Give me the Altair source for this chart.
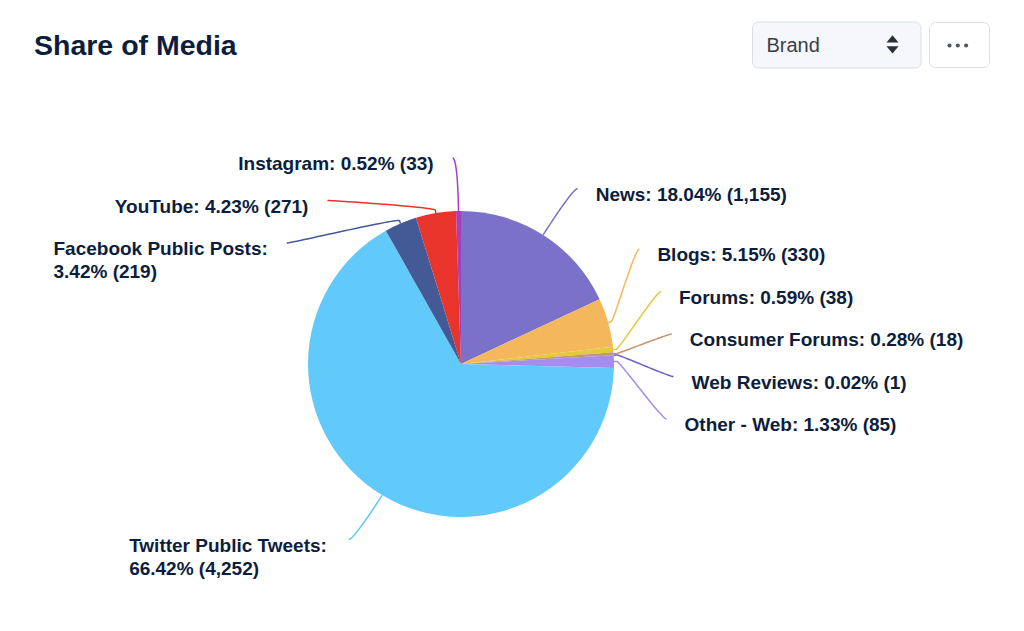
import math
import altair as alt
import pandas as pd

# ---------------- data ----------------
names = ["News", "Blogs", "Forums", "Consumer Forums", "Web Reviews", "Other - Web",
         "Twitter Public Tweets", "Facebook Public Posts", "YouTube", "Instagram"]
counts = [1155, 330, 38, 18, 1, 85, 4252, 219, 271, 33]
colors = ["#7b71c9", "#f5b75b", "#e2ca3c", "#c4956b", "#6a63cc", "#a78cef",
          "#62c9fb", "#435a97", "#e8342a", "#a540bd"]
wrapped = ["Facebook Public Posts", "Twitter Public Tweets"]
title_text = "Share of Media"
dropdown_text = "Brand"

# ---------------- layout constants (page pixels) ----------------
OX, OY = 8, 8
CX, CY, R = 461, 364, 153
RL = 208          # label ring radius
PAD = 5
GAP_R, GAP_L = 18, 19
H1, HL = 42.5, 22.0
TOP, BOTTOM = 158, 604
FS = 19
FONT = "Liberation Sans"
INK = "#0d1d3d"

# Arial/Liberation Sans Bold advance widths (per 1000 em)
AB = {'N': 722, 'e': 556, 'w': 778, 's': 556, 'B': 722, 'l': 278, 'o': 611, 'g': 611,
      'F': 611, 'r': 389, 'u': 611, 'm': 889, 'C': 722, 'n': 611, 'W': 944, 'b': 611,
      'R': 722, 'v': 556, 'i': 278, 'O': 778, 't': 333, 'h': 611, 'T': 611, 'P': 667,
      'c': 556, 'k': 556, 'a': 556, 'Y': 667, 'I': 278, 'p': 611, 'd': 611, 'f': 333,
      'S': 667, 'M': 833, 'E': 667, ':': 333, ' ': 278, '.': 278, '%': 889, '(': 333,
      ')': 333, ',': 278, '-': 333}


def text_w(s, size=FS):
    return sum(AB.get(ch, 556) for ch in s) / 1000.0 * size


total = sum(counts)
starts, acc = [], 0
for c in counts:
    starts.append(acc)
    acc += c
mids = [2 * math.pi * (s + c / 2) / total for s, c in zip(starts, counts)]

labels = []
for i, (n, c, m) in enumerate(zip(names, counts, mids)):
    tail = f"{100 * c / total:.2f}% ({c:,})"
    lines = [f"{n}:", tail] if n in wrapped else [f"{n}: {tail}"]
    labels.append(dict(i=i, name=n, lines=lines, left=math.sin(m) < 0,
                       ny=CY - RL * math.cos(m), nx=CX + RL * math.sin(m),
                       h=H1 + HL * (len(lines) - 1), mid=m))


def distribute(boxes):
    boxes = sorted(boxes, key=lambda b: b['ny'])
    clusters = [[b] for b in boxes]
    while True:
        pos = []
        for cl in clusters:
            tg = [b['ny'] + b['h'] / 2 for b in cl]
            size = sum(b['h'] for b in cl)
            p = (min(tg) + max(tg)) / 2 - size / 2
            p = max(TOP, min(BOTTOM - size, p))
            pos.append(p)
        merged = False
        for k in range(len(clusters) - 1):
            size_k = sum(b['h'] for b in clusters[k])
            if pos[k] + size_k > pos[k + 1] + 1e-9:
                clusters[k] = clusters[k] + clusters[k + 1]
                del clusters[k + 1]
                merged = True
                break
        if not merged:
            break
    for cl, p in zip(clusters, pos):
        y = p
        for b in cl:
            b['y'] = y
            b['clamped'] = abs(y - TOP) < 1e-6 or abs(y + b['h'] - BOTTOM) < 1e-6
            y += b['h']


distribute([b for b in labels if not b['left']])
distribute([b for b in labels if b['left']])

for b in labels:
    sgn = -1 if b['left'] else 1
    if b['clamped']:
        b['x'] = b['nx'] + sgn * PAD
    else:
        dy = b['y'] - CY
        b['x'] = CX + sgn * (math.sqrt(max(0.0, RL * RL - dy * dy)) + PAD)

# connectors
OFF = 3
line_rows = []
for b in labels:
    m = b['mid']
    ux, uy = math.sin(m), -math.cos(m)
    tx, ty = CX + R * ux, CY + R * uy
    bx, by = CX + (R + OFF) * ux, CY + (R + OFF) * uy
    c2x, c2y = 2 * bx - tx, 2 * by - ty
    p0x, p0y = b['x'], b['y']
    c1x, c1y = p0x + (5 if b['left'] else -5), p0y
    N = 30
    seq = 0
    for k in range(N + 1):
        t = k / N
        mt = 1 - t
        x = mt ** 3 * p0x + 3 * mt * mt * t * c1x + 3 * mt * t * t * c2x + t ** 3 * bx
        y = mt ** 3 * p0y + 3 * mt * mt * t * c1y + 3 * mt * t * t * c2y + t ** 3 * by
        line_rows.append(dict(name=b['name'], seq=seq, x=x - OX, y=y - OY))
        seq += 1
    line_rows.append(dict(name=b['name'], seq=seq, x=tx - OX, y=ty - OY))

left_rows, right_rows = [], []
for b in labels:
    for j, ln in enumerate(b['lines']):
        yb = b['y'] + 12 + 23 * j - OY
        if not b['left']:
            left_rows.append(dict(text=ln, x=b['x'] + GAP_R - OX, y=yb))
        elif len(b['lines']) == 1:
            right_rows.append(dict(text=ln, x=b['x'] - GAP_L - OX, y=yb))
        else:
            w = max(text_w(s) for s in b['lines'])
            left_rows.append(dict(text=ln, x=b['x'] - GAP_L - w - OX, y=yb))

# ---------------- charts ----------------
color_enc = alt.Color('name:N', scale=alt.Scale(domain=names, range=colors), legend=None)
one = pd.DataFrame({'v': [0]})

pie_df = pd.DataFrame({'name': names, 'count': counts, 'idx': list(range(len(names)))})
pie = alt.Chart(pie_df).mark_arc(outerRadius=R).encode(
    theta=alt.Theta('count:Q', stack=True),
    color=color_enc,
    order=alt.Order('idx:Q'),
    x=alt.value(CX - OX), y=alt.value(CY - OY),
)

lines = alt.Chart(pd.DataFrame(line_rows)).mark_line(strokeWidth=1.5).encode(
    x=alt.X('x:Q', scale=None, axis=None),
    y=alt.Y('y:Q', scale=None, axis=None),
    color=color_enc,
    detail='name:N',
    order='seq:Q',
)

txt_kw = dict(baseline='alphabetic', font=FONT, fontSize=FS, fontWeight='bold', color=INK)
lab_l = alt.Chart(pd.DataFrame(left_rows)).mark_text(align='left', **txt_kw).encode(
    x=alt.X('x:Q', scale=None, axis=None), y=alt.Y('y:Q', scale=None, axis=None), text='text:N')
lab_r = alt.Chart(pd.DataFrame(right_rows)).mark_text(align='right', **txt_kw).encode(
    x=alt.X('x:Q', scale=None, axis=None), y=alt.Y('y:Q', scale=None, axis=None), text='text:N')

title = alt.Chart(one).mark_text(align='left', baseline='alphabetic', font=FONT, fontSize=28.5,
                                 fontWeight='bold', color=INK, text=title_text).encode(
    x=alt.value(34 - OX), y=alt.value(54.5 - OY))

box1 = alt.Chart(one).mark_rect(cornerRadius=6, fill='#f5f7fa', stroke='#dadee4', strokeWidth=1).encode(
    x=alt.value(752.5 - OX), x2=alt.value(921 - OX), y=alt.value(22 - OY), y2=alt.value(68 - OY))
box2 = alt.Chart(one).mark_rect(cornerRadius=6, fill='#ffffff', stroke='#dadee4', strokeWidth=1).encode(
    x=alt.value(929.5 - OX), x2=alt.value(989.5 - OX), y=alt.value(22.5 - OY), y2=alt.value(67.5 - OY))
brand = alt.Chart(one).mark_text(align='left', baseline='alphabetic', font=FONT, fontSize=20,
                                 color='#3a4049', text=dropdown_text).encode(
    x=alt.value(766.5 - OX), y=alt.value(52.3 - OY))
tri_up = alt.Chart(one).mark_point(shape='M-1,0.6L0,-0.6L1,0.6Z', size=144, filled=True,
                                   color='#2a2f37', opacity=1).encode(
    x=alt.value(892.5 - OX), y=alt.value(38.8 - OY))
tri_dn = alt.Chart(one).mark_point(shape='M-1,-0.6L0,0.6L1,-0.6Z', size=144, filled=True,
                                   color='#2a2f37', opacity=1).encode(
    x=alt.value(892.5 - OX), y=alt.value(49.8 - OY))
dots_df = pd.DataFrame({'k': [0, 1, 2]})
dots = alt.Chart(dots_df).mark_point(shape='circle', size=17, filled=True, color='#4f5660', opacity=1).encode(
    x=alt.X('dx:Q', scale=None, axis=None), y=alt.value(45.5 - OY)
).transform_calculate(dx=f"{949.5 - OX} + datum.k * 8.3")

chart = alt.layer(box1, box2, brand, tri_up, tri_dn, dots, title, pie, lines, lab_l, lab_r).properties(
    width=1000, height=600, padding=0, autosize='none', background='#ffffff'
).configure_view(stroke=None)

chart.save("out.html", embed_options={"renderer": "svg", "actions": False})
